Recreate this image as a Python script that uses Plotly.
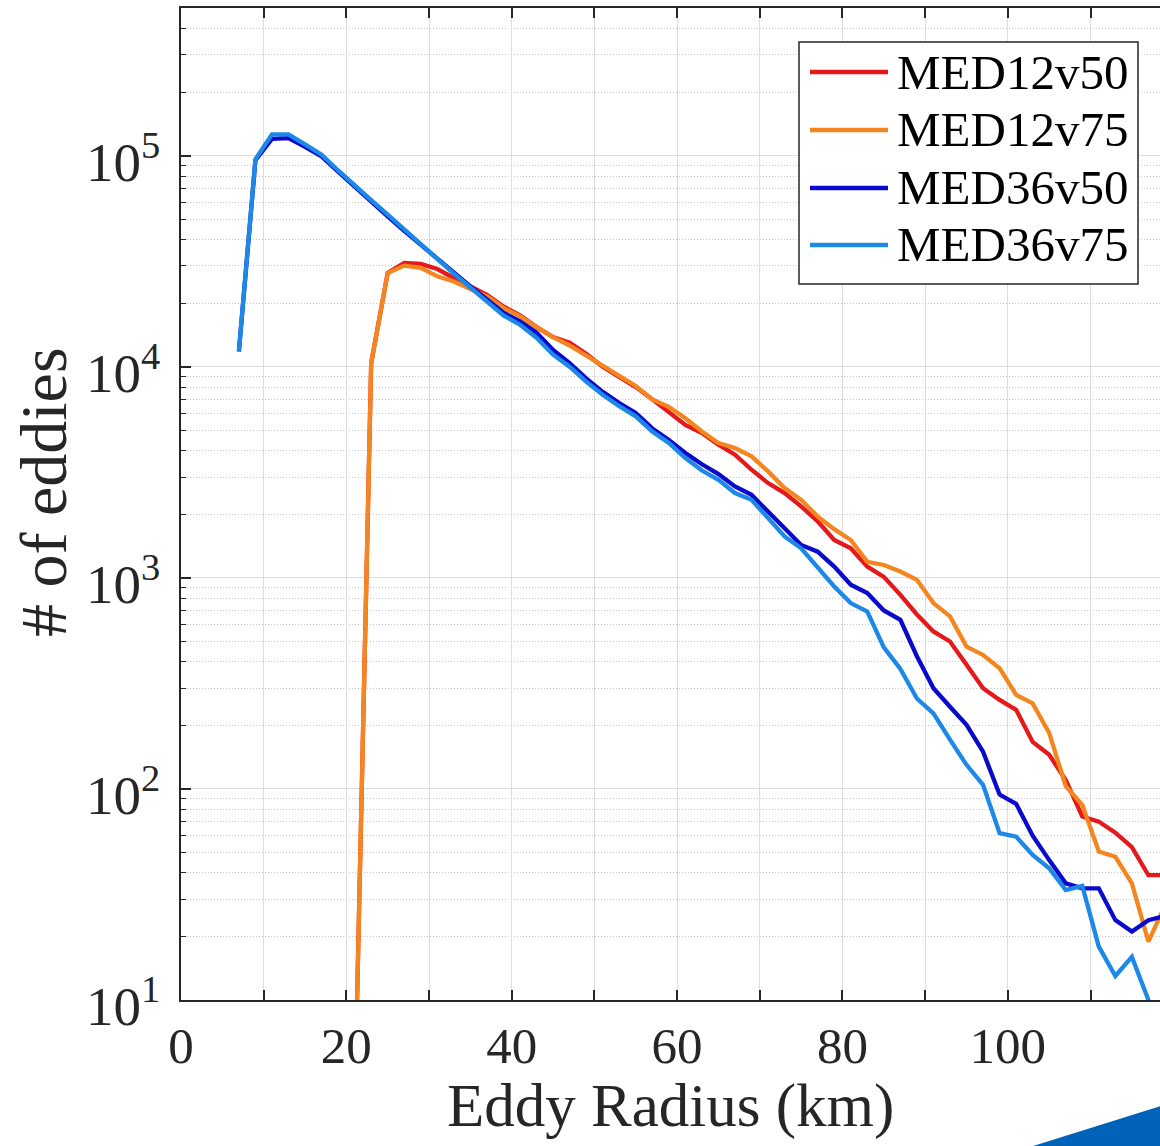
import plotly.graph_objects as go

# Eddy radius bins (km), bin centres every 2 km
radius_km = list(range(7, 121, 2))

series_names = ["MED12v50", "MED12v75", "MED36v50", "MED36v75"]
series_colors = ["#E5191B", "#F5861F", "#0A0ACD", "#1C88E8"]

# Eddy counts per radius bin (empty bins left as None)
med12v50 = [None] * 7 + [
    3, 1.04e4, 2.78e4, 3.1e4, 3.07e4, 2.9e4, 2.63e4, 2.41e4, 2.19e4, 1.93e4,
    1.75e4, 1.54e4, 1.38e4, 1.3e4, 1.15e4, 1.0e4, 9.0e3, 8.0e3, 7.0e3, 6.1e3,
    5.3e3, 4.85e3, 4.27e3, 3.83e3, 3.25e3, 2.81e3, 2.52e3, 2.18e3, 1.85e3, 1.51e3,
    1.38e3, 1.13e3, 1.01e3, 830, 670, 557, 499, 387, 300, 264,
    237, 167, 145, 110, 74, 70, 62, 53, 39, 39,
]
med12v75 = [None] * 7 + [
    3, 1.04e4, 2.78e4, 3.01e4, 2.94e4, 2.68e4, 2.53e4, 2.34e4, 2.15e4, 1.9e4,
    1.73e4, 1.54e4, 1.38e4, 1.26e4, 1.13e4, 1.0e4, 9.05e3, 8.1e3, 7.0e3, 6.45e3,
    5.7e3, 4.93e3, 4.35e3, 4.12e3, 3.76e3, 3.19e3, 2.66e3, 2.34e3, 1.95e3, 1.70e3,
    1.51e3, 1.19e3, 1.15e3, 1.07e3, 978, 759, 656, 472, 431, 373,
    279, 254, 184, 103, 84, 50.5, 47.7, 35.7, 18.9, 28,
]
med36v50 = [
    1.18e4, 9.5e4, 1.2e5, 1.21e5, 1.1e5, 9.9e4, 8.4e4, 7.1e4, 6.05e4, 5.15e4,
    4.4e4, 3.78e4, 3.24e4, 2.76e4, 2.4e4, 2.08e4, 1.8e4, 1.64e4, 1.45e4, 1.2e4,
    1.04e4, 8.8e3, 7.6e3, 6.73e3, 6.04e3, 5.1e3, 4.5e3, 3.9e3, 3.45e3, 3.1e3,
    2.71e3, 2.47e3, 2.06e3, 1.72e3, 1.43e3, 1.33e3, 1.13e3, 927, 847, 700,
    632, 425, 300, 245, 201, 150, 94, 85, 60, 46,
    35.7, 33.8, 33.8, 23.9, 21.1, 23.9, 25,
]
med36v75 = [
    1.18e4, 9.6e4, 1.26e5, 1.26e5, 1.13e5, 1.01e5, 8.5e4, 7.2e4, 6.15e4, 5.25e4,
    4.45e4, 3.8e4, 3.24e4, 2.76e4, 2.38e4, 2.05e4, 1.75e4, 1.58e4, 1.37e4, 1.14e4,
    1.0e4, 8.5e3, 7.36e3, 6.5e3, 5.82e3, 4.93e3, 4.35e3, 3.69e3, 3.22e3, 2.91e3,
    2.52e3, 2.34e3, 1.92e3, 1.57e3, 1.38e3, 1.13e3, 910, 759, 692, 468,
    370, 268, 228, 171, 130, 104.5, 61.7, 59.4, 48.6, 42.1,
    33.2, 34.7, 17.9, 13.0, 16.0, 10, 6,
]

x_ticks = list(range(0, 121, 20))
x_ticklabels = [str(v) for v in x_ticks]
x_minor = list(range(10, 121, 20))
y_ticks = [10, 100, 1000, 10000, 100000]
y_ticklabels = ["10<sup>1</sup>", "10<sup>2</sup>", "10<sup>3</sup>", "10<sup>4</sup>", "10<sup>5</sup>"]
y_minor = [k * 10 ** e for e in range(1, 6) for k in range(2, 10) if k * 10 ** e <= 5e5]

x_title = "Eddy Radius (km)"
y_title = "# of eddies"

FONT = "Liberation Serif"
INK = "#262626"
GRID = "#dddddd"
LINE_W = 4.3

W, H = 1160, 1146
ML, MR, MT, MB = 181, 0, 8, 146
PW, PH = W - ML - MR, H - MT - MB


def px_to_paper(px, py):
    return (px - ML) / PW, (H - MB - py) / PH


fig = go.Figure()
all_series = [med12v50, med12v75, med36v50, med36v75]
for name, color, counts in zip(series_names, series_colors, all_series):
    fig.add_trace(go.Scatter(
        x=radius_km, y=counts, name=name, mode="lines",
        line=dict(color=color, width=LINE_W),
        connectgaps=False, showlegend=False,
    ))

shapes = []
annotations = []

# Legend box drawn in paper space
bx0, by0 = px_to_paper(799, 284)
bx1, by1 = px_to_paper(1138, 42)
shapes.append(dict(type="rect", xref="paper", yref="paper",
                   x0=bx0, y0=by0, x1=bx1, y1=by1,
                   line=dict(color=INK, width=1.5), fillcolor="white", layer="above"))
row_y = [72, 130, 188, 245]
for name, color, ry in zip(series_names, series_colors, row_y):
    lx0, ly = px_to_paper(810, ry)
    lx1, _ = px_to_paper(888, ry)
    tx, _ = px_to_paper(895, ry)
    shapes.append(dict(type="line", xref="paper", yref="paper",
                       x0=lx0, x1=lx1, y0=ly, y1=ly,
                       line=dict(color=color, width=LINE_W), layer="above"))
    annotations.append(dict(xref="paper", yref="paper", x=tx, y=ly,
                            xanchor="left", yanchor="middle", showarrow=False,
                            text=name, font=dict(family=FONT, size=49, color="#000000")))

# Axis titles
xt_x, xt_y = px_to_paper(670, 1106)
annotations.append(dict(xref="paper", yref="paper", x=xt_x, y=xt_y,
                        xanchor="center", yanchor="middle", showarrow=False,
                        text=x_title, font=dict(family=FONT, size=61, color=INK)))
yt_x, yt_y = px_to_paper(43, 492)
annotations.append(dict(xref="paper", yref="paper", x=yt_x, y=yt_y,
                        xanchor="center", yanchor="middle", showarrow=False,
                        textangle=-90,
                        text=y_title, font=dict(family=FONT, size=66, color=INK)))

# Corner ribbon at the bottom right
tx0, ty0 = px_to_paper(1030, 1147)
tx1, ty1 = px_to_paper(1161, 1106)
_, ty2 = px_to_paper(1161, 1147)
shapes.append(dict(type="path", xref="paper", yref="paper",
                   path=f"M {tx0},{ty0} L {tx1},{ty1} L {tx1},{ty2} Z",
                   fillcolor="#0062B8", line=dict(width=0), layer="above"))

fig.update_layout(
    width=W, height=H,
    margin=dict(l=ML, r=MR, t=MT, b=MB, autoexpand=False),
    paper_bgcolor="white", plot_bgcolor="white",
    font=dict(family=FONT, size=51, color=INK),
    shapes=shapes, annotations=annotations,
    showlegend=False,
)

fig.update_xaxes(
    range=[0, 118.4],
    tickmode="array", tickvals=x_ticks, ticktext=x_ticklabels,
    ticks="inside", ticklen=10, tickwidth=1.5, tickcolor=INK,
    showline=True, linecolor=INK, linewidth=1.6, mirror="ticks",
    showgrid=True, gridcolor=GRID, gridwidth=1.3,
    minor=dict(tickmode="array", tickvals=x_minor, ticks="inside", ticklen=10,
               tickwidth=1.5, tickcolor=INK, showgrid=True,
               gridcolor=GRID, gridwidth=1.3),
    zeroline=False, ticklabelstandoff=0,
    automargin=False,
)
fig.update_yaxes(
    type="log", range=[1, 5.69897],
    tickmode="array", tickvals=y_ticks, ticktext=y_ticklabels,
    tickfont=dict(size=55),
    ticks="inside", ticklen=10, tickwidth=1.5, tickcolor=INK,
    showline=True, linecolor=INK, linewidth=1.6, mirror=False,
    showgrid=True, gridcolor=GRID, gridwidth=1.3,
    zeroline=False, ticklabelstandoff=8, ticklabelshift=6,
    minor=dict(tickmode="array", tickvals=y_minor, ticks="inside", ticklen=5,
               tickwidth=1.2, tickcolor=INK, showgrid=True,
               gridcolor="#c8c8c8", griddash="1px,2px", gridwidth=1),
    automargin=False,
)

fig.write_html("out.html")
